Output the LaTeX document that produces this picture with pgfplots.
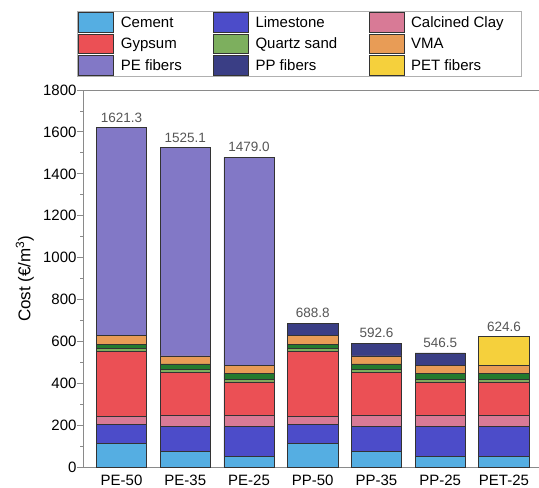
\documentclass[border=0pt]{standalone}
\usepackage{fontspec}
\setmainfont{Liberation Sans}
\usepackage{pgfplots}
\pgfplotsset{compat=1.18}

\definecolor{cement}{HTML}{55AEE2}
\definecolor{limestone}{HTML}{4C4CC9}
\definecolor{clay}{HTML}{D87A96}
\definecolor{gypsum}{HTML}{EB5055}
\definecolor{quartz}{HTML}{7DAF5E}
\definecolor{admix}{HTML}{237A2E}
\definecolor{vma}{HTML}{E89C56}
\definecolor{pefib}{HTML}{8278C6}
\definecolor{ppfib}{HTML}{3A3E85}
\definecolor{petfib}{HTML}{F5D03C}
\definecolor{edge}{HTML}{333333}
\definecolor{axisgray}{HTML}{8A8A8A}
\definecolor{legendgray}{HTML}{B0B0B0}
\definecolor{labelgray}{HTML}{555555}

% legend text cell of fixed width, with a small gap after the swatch
\newcommand\lent[2]{\makebox[#1][l]{\hspace*{7bp}#2}}

% shared geometry of the cost axes
\pgfplotsset{costframe/.style={
  at={(83.3bp,20.5bp)}, anchor=south west,
  scale only axis, width=455.7bp, height=377.5bp,
  xmin=-0.6, xmax=6.55, ymin=0, ymax=1800,
}}

\begin{document}
\begin{tikzpicture}[x=1bp,y=1bp]
\useasboundingbox (0,0) rectangle (539,488);
\begin{axis}[
  costframe,
  ybar stacked, bar width=0.79,
  xtick={0,1,2,3,4,5,6},
  xticklabels={PE-50,PE-35,PE-25,PP-50,PP-35,PP-25,PET-25},
  ytick={0,200,...,1800}, minor y tick num=1,
  axis x line*=bottom, axis y line*=left,
  axis line style={draw=axisgray, line width=0.9bp, -},
  x tick style={draw=none},
  y tick style={draw=axisgray, line width=0.9bp},
  tick align=outside, major tick length=6bp, minor tick length=3bp,
  /pgf/number format/1000 sep={},
  /pgf/number format/assume math mode=true,
  tick label style={font=\fontsize{15bp}{18bp}\selectfont, text=black},
  xticklabel style={yshift=1.5bp},
  yticklabel style={xshift=2.7bp},
  ylabel={Cost (€/m\textsuperscript{3})},
  ylabel style={at={(axis description cs:-0.128,0.5)}, anchor=center,
    font=\fontsize{17bp}{20bp}\selectfont},
  every axis plot/.append style={draw=edge, line width=0.6bp},
  legend image code/.code={\draw[#1, line width=0.6bp] (0bp,-9.75bp) rectangle (35bp,9.75bp);},
  legend columns=3,
  legend cell align=left,
  legend style={
    at={(-0.0138,1.2093)}, anchor=north west,
    draw=legendgray, line width=0.6bp, inner sep=1bp,
    font=\fontsize{15bp}{18bp}\selectfont,
    row sep=1.5bp, column sep=0pt,
    nodes={inner sep=0pt, text height=12bp, text depth=2bp},
  },
]
% mix components, bottom to top
\addplot[fill=cement] coordinates {(0,115) (1,76) (2,52) (3,115) (4,76) (5,52) (6,52)};
\addlegendentry{\lent{99bp}{Cement}}
\addplot[fill=limestone] coordinates {(0,92) (1,120) (2,143) (3,92) (4,120) (5,143) (6,143)};
\addlegendentry{\lent{120bp}{Limestone}}
\addplot[fill=clay] coordinates {(0,37) (1,53) (2,53) (3,37) (4,53) (5,53) (6,53)};
\addlegendentry{\lent{116bp}{Calcined Clay}}
\addplot[fill=gypsum] coordinates {(0,311) (1,206) (2,160) (3,311) (4,206) (5,160) (6,160)};
\addlegendentry{\lent{99bp}{Gypsum}}
\addplot[fill=quartz] coordinates {(0,11) (1,14) (2,13) (3,11) (4,14) (5,13) (6,13)};
\addlegendentry{\lent{120bp}{Quartz sand}}
\addplot[fill=admix, forget plot] coordinates {(0,21) (1,25) (2,28) (3,21) (4,25) (5,28) (6,28)};
\addplot[fill=vma] coordinates {(0,41.1) (1,37.9) (2,36.8) (3,41.1) (4,37.9) (5,36.8) (6,36.8)};
\addlegendentry{\lent{116bp}{VMA}}
% fibres
\addplot[fill=pefib] coordinates {(0,993.2) (1,993.2) (2,993.2) (3,0) (4,0) (5,0) (6,0)};
\addlegendentry{\lent{99bp}{PE fibers}}
\addplot[fill=ppfib] coordinates {(0,0) (1,0) (2,0) (3,60.7) (4,60.7) (5,60.7) (6,0)};
\addlegendentry{\lent{120bp}{PP fibers}}
\addplot[fill=petfib] coordinates {(0,0) (1,0) (2,0) (3,0) (4,0) (5,0) (6,138.8)};
\addlegendentry{\lent{116bp}{PET fibers}}
\draw[axisgray, line width=0.9bp] (rel axis cs:0,1) -- (rel axis cs:1,1);
\end{axis}
% total cost of each mix, printed above its bar
\begin{axis}[costframe, hide axis, clip=false]
\addplot[draw=none, point meta=y,
  nodes near coords={\pgfmathprintnumber[fixed,fixed zerofill,precision=1,1000 sep={},assume math mode=true]{\pgfplotspointmeta}},
  every node near coord/.append style={anchor=south, inner sep=0pt, yshift=5bp,
    font=\fontsize{13.5bp}{16bp}\selectfont, text=labelgray}]
  coordinates {(0,1621.3) (1,1525.1) (2,1479.0) (3,688.8) (4,592.6) (5,546.5) (6,624.6)};
\end{axis}
\end{tikzpicture}
\end{document}
